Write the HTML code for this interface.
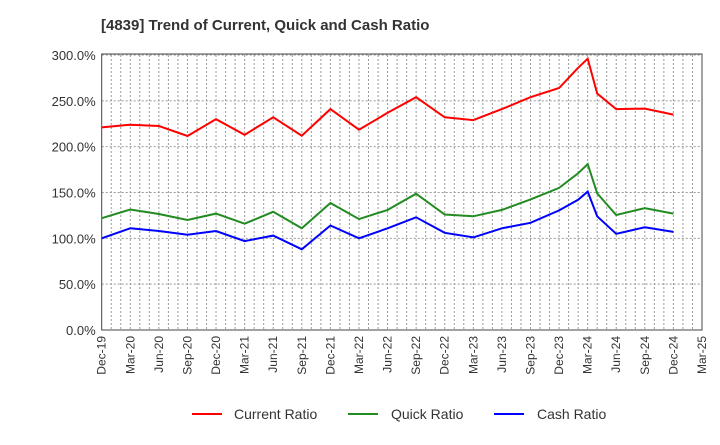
<!DOCTYPE html>
<html><head><meta charset="utf-8"><style>
body{margin:0;background:#fff;font-family:"Liberation Sans",sans-serif;}
svg text{font-family:"Liberation Sans",sans-serif;}
</style></head><body>
<svg id="chart" width="720" height="440" xmlns="http://www.w3.org/2000/svg">
<text x="101" y="30" font-size="15" font-weight="bold" fill="#333">[4839]  Trend of Current, Quick and Cash Ratio</text>
<g id="grid"></g><g id="axes"></g><g id="series"></g>
<g id="legend">
<line x1="192" y1="414" x2="222" y2="414" stroke="#ff0000" stroke-width="2"/>
<text x="234" y="419" font-size="14" fill="#333">Current Ratio</text>
<line x1="348" y1="414" x2="378" y2="414" stroke="#228b22" stroke-width="2"/>
<text x="391" y="419" font-size="14" fill="#333">Quick Ratio</text>
<line x1="494" y1="414" x2="524" y2="414" stroke="#0000ff" stroke-width="2"/>
<text x="537" y="419" font-size="14" fill="#333">Cash Ratio</text>
</g>
</svg>
<script>
const monthIdx = [0,3,6,9,12,15,18,21,24,27,30,33,36,39,42,45,48,50,51,52,54,57,60];
const currentRatio = [221,224,222.5,211.6,230,213,232,212,241,218.5,237,254,232,229,241,254,264,286,296,258,241,241.5,235];
const quickRatio = [122,131.5,126.5,120,127,116,129,111,138.5,121,131,148.7,126,124,131,142.5,155,171,181,149,125.5,133,127];
const cashRatio = [100,111,108,104,108,97,103,88,114,100,111,123,106,101,111,117,130.5,142,151,124,105,112,107];
const yTicks = [0,50,100,150,200,250,300];
const xLabels = ["Dec-19","Mar-20","Jun-20","Sep-20","Dec-20","Mar-21","Jun-21","Sep-21","Dec-21","Mar-22","Jun-22","Sep-22","Dec-22","Mar-23","Jun-23","Sep-23","Dec-23","Mar-24","Jun-24","Sep-24","Dec-24","Mar-25"];

const NS="http://www.w3.org/2000/svg";
const L=101.7,R=702,T=55,B=330,months=63;
const xs=m=>L+(R-L)*m/months;
const ys=v=>B-(B-T)*v/300;
function mk(tag,attrs,parent){const e=document.createElementNS(NS,tag);for(const k in attrs)e.setAttribute(k,attrs[k]);parent.appendChild(e);return e;}
const grid=document.getElementById('grid'),axes=document.getElementById('axes'),ser=document.getElementById('series');
for(let m=1;m<months;m++){
  const g=mk('line',{x1:xs(m),x2:xs(m),y1:T,y2:B,stroke:'#999','stroke-width':1,'stroke-dasharray':'2,2'},grid);
  
  
}
yTicks.forEach(v=>{
  const g=mk('line',{x1:L,x2:R,y1:ys(v),y2:ys(v),stroke:'#999','stroke-width':1,'stroke-dasharray':'2,2'},grid);
  
  
  const t=mk('text',{x:L-6,y:ys(v)+5,'font-size':13,fill:'#333','text-anchor':'end'},axes);
  t.textContent=v.toFixed(1)+'%';
  
  
});
xLabels.forEach((s,i)=>{
  const x=xs(i*3);
  const t=mk('text',{x:0,y:0,'font-size':12,fill:'#333','text-anchor':'end',transform:`translate(${x+4},${B+6}) rotate(-90)`},axes);
  t.textContent=s;
  
  
});
const frame=mk('rect',{x:L,y:T-1,width:R-L,height:B-T+1,fill:'none',stroke:'#444','stroke-width':1},axes);


[[currentRatio,'#ff0000','current-ratio-line'],[quickRatio,'#228b22','quick-ratio-line'],[cashRatio,'#0000ff','cash-ratio-line']].forEach(([d,c,n])=>{
  const pts=d.map((v,i)=>xs(monthIdx[i]).toFixed(1)+','+ys(v).toFixed(1)).join(' ');
  const p=mk('polyline',{points:pts,fill:'none',stroke:c,'stroke-width':2},ser);
  
  
});
</script>
</body></html>
